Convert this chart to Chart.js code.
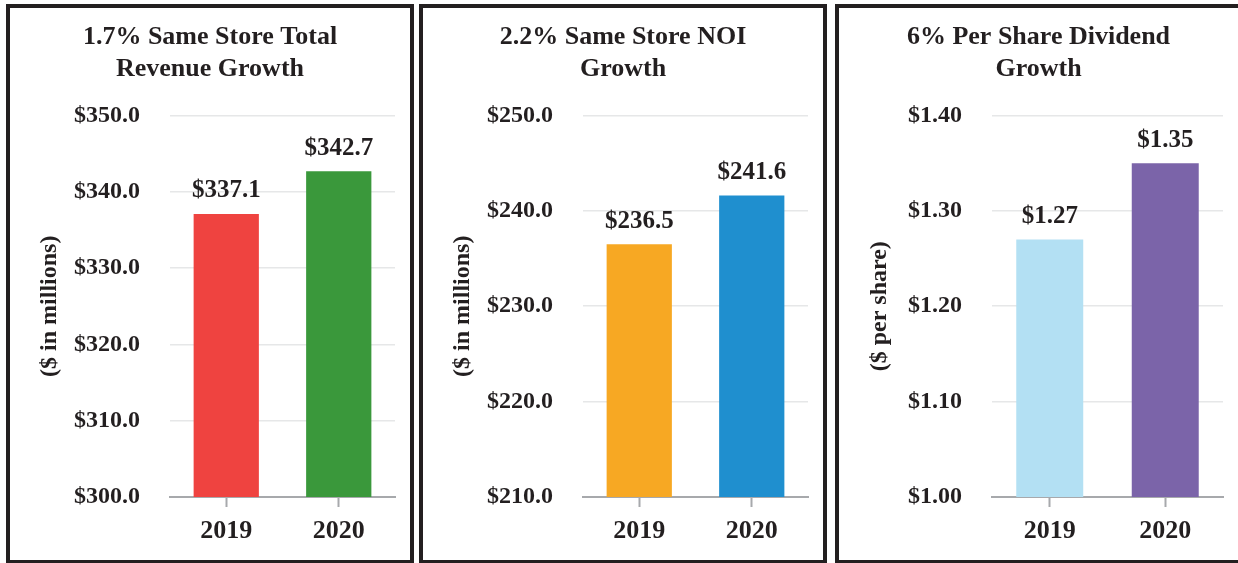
<!DOCTYPE html>
<html>
<head>
<meta charset="utf-8">
<script src="https://cdn.jsdelivr.net/npm/chart.js@4.4.1/dist/chart.umd.min.js"></script>
<style>
    body { margin: 0; background: #fff; width: 1238px; height: 563px; overflow: hidden; position: relative; }
    .panel { position: absolute; top: 4px; height: 560px; border: 4px solid #231f20; box-sizing: border-box; }
    .panel canvas { position: absolute; left: 0; top: 0; }
</style>
</head>
<body>
<div class="panel" style="left:6px;width:408px;"><canvas id="revenueChart" width="400" height="552"></canvas></div>
<div class="panel" style="left:419px;width:408px;"><canvas id="noiChart" width="400" height="552"></canvas></div>
<div class="panel" style="left:835px;width:407px;"><canvas id="dividendChart" width="399" height="552"></canvas></div>

<script>
var years = ['2019', '2020'];

var revenueValues = [337.1, 342.7];
var noiValues = [236.5, 241.6];
var dividendValues = [1.27, 1.35];

var revenueLabels = ['$337.1', '$342.7'];
var noiLabels = ['$236.5', '$241.6'];
var dividendLabels = ['$1.27', '$1.35'];

var revenueColors = ['#ef4340', '#3a983b'];
var noiColors = ['#f7a823', '#1f8fcf'];
var dividendColors = ['#b3e0f3', '#7b64a9'];

var serif = '"Liberation Serif", "Times New Roman", serif';

// draws the value above each bar
var valueLabelPlugin = {
    id: 'valueLabels',
    afterDatasetsDraw: function (chart) {
        var ctx = chart.ctx;
        var labels = chart.options.plugins.valueLabels.labels;
        var meta = chart.getDatasetMeta(0);
        ctx.save();
        ctx.font = 'bold 25px ' + serif;
        ctx.fillStyle = '#231f20';
        ctx.textAlign = 'center';
        ctx.textBaseline = 'middle';
        meta.data.forEach(function (bar, i) {
            ctx.fillText(labels[i], bar.x, bar.y - 23);
        });
        ctx.restore();
    }
};

function makeChart(id, opts) {
    'use strict';

    var ctx = document.getElementById(id).getContext('2d');
    return new Chart(ctx, {
        type: 'bar',
        data: {
            labels: years,
            datasets: [{
                data: opts.values,
                backgroundColor: opts.colors,
                borderWidth: 0,
                barPercentage: 0.58,
                categoryPercentage: 1
            }]
        },
        plugins: [valueLabelPlugin],
        options: {
            responsive: false,
            animation: false,
            layout: {
                padding: {left: 15, right: 15, top: 0, bottom: 0}
            },
            plugins: {
                legend: {display: false},
                tooltip: {enabled: false},
                title: {
                    display: true,
                    text: opts.title,
                    color: '#231f20',
                    font: {family: serif, size: 26, weight: 'bold', lineHeight: 1.24},
                    padding: {top: 13, bottom: 30}
                },
                valueLabels: {labels: opts.labels}
            },
            scales: {
                x: {
                    grid: {
                        display: true,
                        offset: false,
                        drawOnChartArea: false,
                        tickLength: 10,
                        tickColor: '#a7a9ac',
                        tickWidth: 2
                    },
                    border: {display: true, color: '#a7a9ac', width: 2},
                    ticks: {
                        color: '#231f20',
                        padding: 9,
                        font: {family: serif, size: 26, weight: 'bold'}
                    },
                    afterFit: function (scale) {
                        scale.height = 63;
                    }
                },
                y: {
                    min: opts.min,
                    max: opts.max,
                    grid: {color: '#e6e7e8', lineWidth: 1.5, drawTicks: false},
                    border: {display: false},
                    ticks: {
                        stepSize: opts.step,
                        padding: 30,
                        color: '#231f20',
                        font: {family: serif, size: 24, weight: 'bold'},
                        callback: function (value) {
                            return '$' + value.toFixed(opts.decimals);
                        }
                    },
                    title: {
                        display: true,
                        text: opts.axisTitle,
                        color: '#231f20',
                        font: {family: serif, size: 24, weight: 'bold'},
                        padding: {top: opts.titleOffset, bottom: 0}
                    },
                    afterFit: function (scale) {
                        scale.width = opts.axisWidth;
                    }
                }
            }
        }
    });
}

makeChart('revenueChart', {
    title: ['1.7% Same Store Total', 'Revenue Growth'],
    values: revenueValues,
    labels: revenueLabels,
    colors: revenueColors,
    min: 300, max: 350, step: 10, decimals: 1,
    axisTitle: '($ in millions)',
    axisWidth: 145,
    titleOffset: 10
});

makeChart('noiChart', {
    title: ['2.2% Same Store NOI', 'Growth'],
    values: noiValues,
    labels: noiLabels,
    colors: noiColors,
    min: 210, max: 250, step: 10, decimals: 1,
    axisTitle: '($ in millions)',
    axisWidth: 145,
    titleOffset: 10
});

makeChart('dividendChart', {
    title: ['6% Per Share Dividend', 'Growth'],
    values: dividendValues,
    labels: dividendLabels,
    colors: dividendColors,
    min: 1.0, max: 1.4, step: 0.1, decimals: 2,
    axisTitle: '($ per share)',
    axisWidth: 138,
    titleOffset: 11
});
</script>
</body>
</html>
